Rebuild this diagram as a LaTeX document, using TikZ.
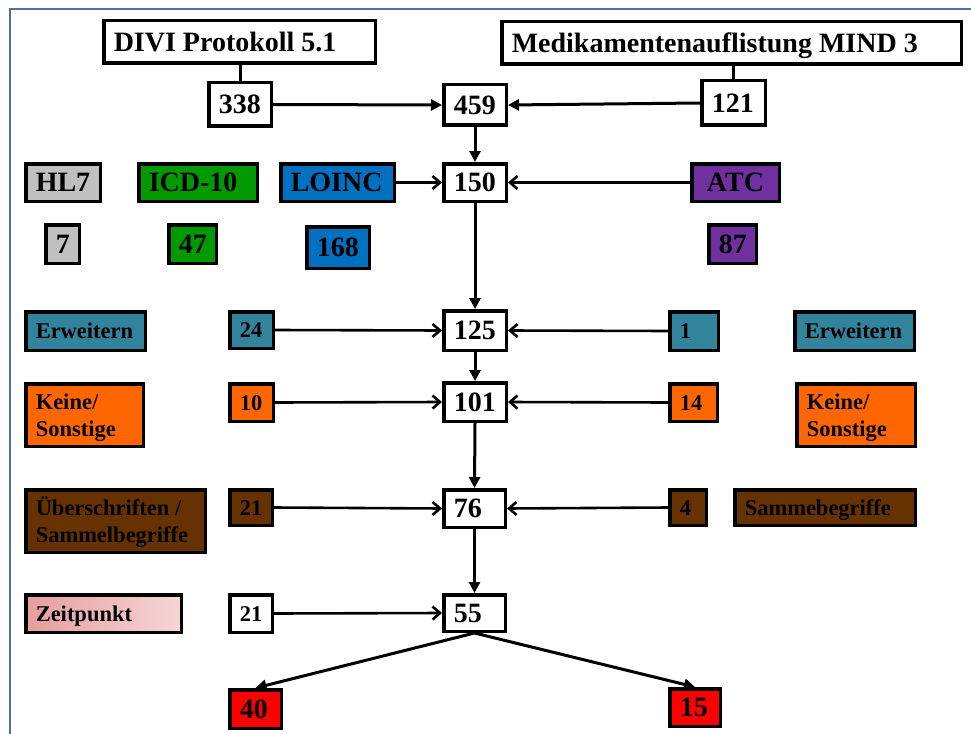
\documentclass[tikz,border=0pt]{standalone}
\usepackage{fontspec}
\setmainfont{Liberation Serif}
\usetikzlibrary{arrows.meta}

\definecolor{frameblue}{RGB}{79,112,160}
\definecolor{hlgray}{RGB}{192,192,192}
\definecolor{icdgreen}{RGB}{0,153,0}
\definecolor{loincblue}{RGB}{0,112,192}
\definecolor{atcpurple}{RGB}{112,48,160}
\definecolor{erwteal}{RGB}{49,132,155}
\definecolor{keiorange}{RGB}{255,102,0}
\definecolor{uebbrown}{RGB}{102,51,0}
\definecolor{pinkA}{RGB}{230,158,158}
\definecolor{pinkB}{RGB}{246,214,214}
\definecolor{hitred}{RGB}{255,0,0}

% line strut with the ascent and descent of the serif face,
% so that every line is centred on its capitals
\newcommand\linestrut{\vrule height 0.891em depth 0.216em width 0pt}
\newcommand\boxalign{\raggedright}

% box given by its outer corners (x1,y1)-(x2,y2), text set flush left
\newcommand\flowbox[7]{%
  \pgfmathsetmacro\fbW{#4-#2-3.5}%
  \pgfmathsetmacro\fbH{#5-#3-3.5}%
  \pgfmathsetmacro\fbT{#4-#2-3.5-20}%
  \pgfmathsetmacro\fbX{(#2+#4)/2}%
  \pgfmathsetmacro\fbY{(#3+#5)/2}%
  \node[box,#6,minimum width=\fbW pt,minimum height=\fbH pt] (#1) at (\fbX,\fbY)
    {\parbox[c]{\fbT pt}{\boxalign\linestrut #7\linestrut}};%
}

\begin{document}
\begin{tikzpicture}[x=1pt,y=-1pt,
  box/.style={draw=black, line width=3.5pt, inner xsep=10pt, inner ysep=0pt,
    fill=white, font=\bfseries\fontsize{28}{32}\selectfont},
  small/.style={font=\bfseries\fontsize{22.5}{27}\selectfont},
  mid/.style={execute at begin node={\renewcommand\boxalign{\centering}}},
  link/.style={line width=3pt},
  feed/.style={line width=3pt, -{Triangle[length=11pt,width=11pt]}},
  side/.style={line width=2.6pt, -{Straight Barb[length=7.5pt,width=13pt]}}]

\useasboundingbox (0,0) rectangle (971,733);
\fill[white] (0,0) rectangle (971,733);

% page frame
\draw[frameblue, line width=2pt] (10,745) -- (10,9) -- (980,9);

% sources
\flowbox{divi}{102}{19}{377}{65}{}{DIVI Protokoll 5.1}
\flowbox{mind}{500}{20}{963}{66}{}{Medikamentenauflistung MIND 3}
\flowbox{n338}{207}{81}{273}{128}{}{338}
\flowbox{n121}{700}{79}{767}{127}{}{121}
\flowbox{n459}{442}{83}{508}{127}{}{459}

% terminologies
\flowbox{hl7}{24}{162}{102}{203}{fill=hlgray}{HL7}
\flowbox{icd}{137}{162}{259}{203}{fill=icdgreen}{ICD-10}
\flowbox{loinc}{279}{162}{396}{203}{fill=loincblue}{LOINC}
\flowbox{n150}{442}{162}{508}{203}{}{150}
\flowbox{atc}{690}{162}{781}{203}{fill=atcpurple,mid}{ATC}
\flowbox{n7}{44}{223}{81}{265}{fill=hlgray}{7}
\flowbox{n47}{167}{223}{218}{265}{fill=icdgreen}{47}
\flowbox{n168}{305}{225}{371}{270}{fill=loincblue}{168}
\flowbox{n87}{707}{223}{758}{265}{fill=atcpurple}{87}

% Erweitern
\flowbox{erwL}{24}{310}{147}{352}{fill=erwteal,small}{Erweitern}
\flowbox{n24}{228}{310}{275}{350}{fill=erwteal,small}{24}
\flowbox{n125}{442}{309}{508}{352}{}{125}
\flowbox{n1}{668}{310}{720}{352}{fill=erwteal,small}{1}
\flowbox{erwR}{793}{310}{916}{352}{fill=erwteal,small}{Erweitern}

% Keine / Sonstige
\flowbox{keiL}{24}{382}{145}{448}{fill=keiorange,small}{Keine/\\Sonstige}
\flowbox{n10}{228}{382}{275}{423}{fill=keiorange,small}{10}
\flowbox{n101}{442}{381}{508}{423}{}{101}
\flowbox{n14}{668}{382}{719}{423}{fill=keiorange,small}{14}
\flowbox{keiR}{795}{382}{917}{448}{fill=keiorange,small}{Keine/\\Sonstige}

% Sammelbegriffe
\flowbox{ueb}{24}{488}{207}{554}{fill=uebbrown,small}{Überschriften /\\Sammelbegriffe}
\flowbox{n21a}{228}{488}{274}{527}{fill=uebbrown,small}{21}
\flowbox{n76}{442}{488}{507}{529}{}{76}
\flowbox{n4}{668}{488}{708}{527}{fill=uebbrown,small}{4}
\flowbox{samm}{733}{488}{917}{527}{fill=uebbrown,small}{Sammebegriffe}

% Zeitpunkt
\flowbox{zeit}{24}{593}{183}{634}{left color=pinkA,right color=pinkB,small}{Zeitpunkt}
\flowbox{n21b}{228}{593}{274}{634}{small}{21}
\flowbox{n55}{442}{593}{507}{633}{}{55}

% result
\flowbox{n40}{228}{688}{283}{730}{fill=hitred}{40}
\flowbox{n15}{668}{687}{722}{728}{fill=hitred}{15}

% connectors
\draw[link] (n338.north) -- (n338.north |- divi.south);
\draw[link] (n121.north) -- (n121.north |- mind.south);
\draw[feed] (n338.east) -- (n459.west);
\draw[feed] (n121.west) -- (n459.east);
\draw[feed] (n459.south) -- (n150.north);
\draw[side] (loinc.east) -- (n150.west);
\draw[side] (atc.west) -- (n150.east);
\draw[feed] (n150.south) -- (n125.north);
\draw[side] (n24.east) -- (n125.west);
\draw[side] (n1.west) -- (n125.east);
\draw[feed] (n125.south) -- (n101.north);
\draw[side] (n10.east) -- (n101.west);
\draw[side] (n14.west) -- (n101.east);
\draw[feed] (n101.south) -- (n76.north);
\draw[side] (n21a.east) -- (n76.west);
\draw[side] (n4.west) -- (n76.east);
\draw[feed] (n76.south) -- (n55.north);
\draw[side] (n21b.east) -- (n55.west);
\draw[feed] (n55.south) -- (n40.north);
\draw[feed] (n55.south) -- (n15.north);
\end{tikzpicture}
\end{document}
